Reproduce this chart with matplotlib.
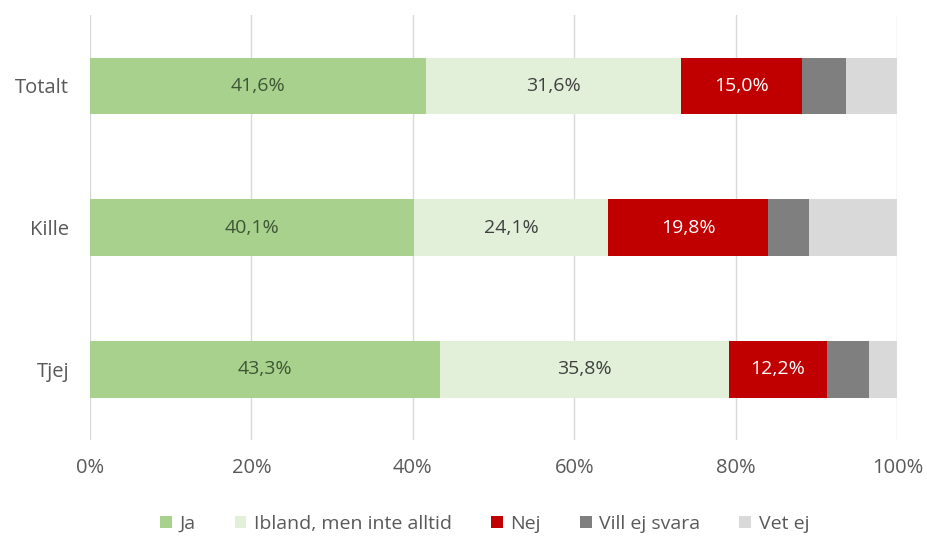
import matplotlib.pyplot as plt
from matplotlib.ticker import FuncFormatter

plt.rcParams['font.family'] = ['Open Sans', 'DejaVu Sans']

# data (procent)
grupper = ["Tjej", "Kille", "Totalt"]
ja = [43.3, 40.1, 41.6]
ibland = [35.8, 24.1, 31.6]
nej = [12.2, 19.8, 15.0]
vill_ej = [5.2, 5.0, 5.4]
vet_ej = [3.5, 11.0, 6.4]

serier = ["Ja", "Ibland, men inte alltid", "Nej", "Vill ej svara", "Vet ej"]
farger = ["#A9D18E", "#E2F0D9", "#C00000", "#7F7F7F", "#D9D9D9"]
varden = [ja, ibland, nej, vill_ej, vet_ej]
visa_etikett = [True, True, True, False, False]
etikett_farg = ["#3E5634", "#404040", "white", None, None]

fig = plt.figure(figsize=(9.27, 5.36), dpi=100)
ax = fig.add_axes([0.097, 0.179, 0.871, 0.793])

y = list(range(len(grupper)))
vanster = [0.0] * len(grupper)
for namn, farg, v, visa, tf in zip(serier, farger, varden, visa_etikett, etikett_farg):
    staplar = ax.barh(y, v, left=vanster, height=0.4, color=farg, label=namn, zorder=3)
    if visa:
        for rekt, val in zip(staplar, v):
            cx = rekt.get_x() + rekt.get_width() / 2
            cy = rekt.get_y() + rekt.get_height() / 2
            ax.text(cx, cy, f"{val:.1f}%".replace(".", ","), ha="center", va="center",
                    color=tf, fontsize=14, zorder=4)
    vanster = [a + b for a, b in zip(vanster, v)]

ax.set_xlim(0, 100)
ax.set_ylim(-0.5, 2.5)
ax.set_xticks([0, 20, 40, 60, 80, 100])
ax.xaxis.set_major_formatter(FuncFormatter(lambda x, p: f"{x:.0f}%"))
ax.set_yticks(y)
ax.set_yticklabels(grupper)
ax.tick_params(axis="both", length=0, labelsize=14.5, colors="#595959")
ax.tick_params(axis="x", pad=13)
ax.tick_params(axis="y", pad=15)
ax.grid(axis="x", color="#D9D9D9", linewidth=1, zorder=0)
for s in ax.spines.values():
    s.set_visible(False)

leg = fig.legend(loc="lower center", bbox_to_anchor=(0.523, -0.027), ncol=5, frameon=False,
                 fontsize=14, handlelength=0.6, handleheight=0.6, handletextpad=0.4,
                 columnspacing=2.0)
for t in leg.get_texts():
    t.set_color("#595959")

fig.savefig("out.png", dpi=100)
